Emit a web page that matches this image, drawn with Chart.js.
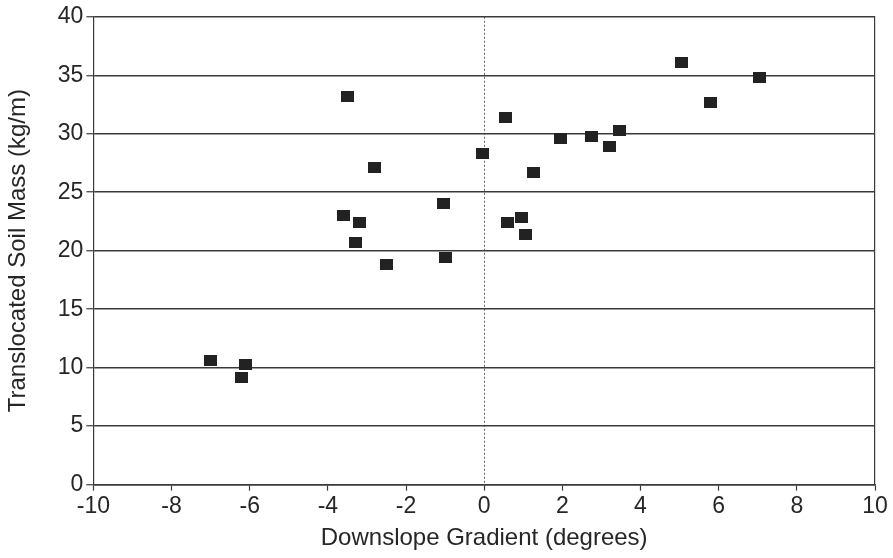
<!DOCTYPE html>
<html>
<head>
<meta charset="utf-8">
<script src="https://cdn.jsdelivr.net/npm/chart.js@4/dist/chart.umd.min.js"></script>
<style>
  html, body { margin: 0; padding: 0; background: #fff; }
  #wrap { width: 893px; height: 558px; }
</style>
</head>
<body>
<div id="wrap"><canvas id="c"></canvas></div>
<script>
// gradient (degrees) vs translocated soil mass (kg/m)
const gradient = [-7.0, -6.2, -6.1, -3.5, -2.8, -3.6, -3.2, -3.3, -2.5, -1.05, -1.0,
                  -0.05, 0.55, 1.25, 0.6, 0.95, 1.05, 1.95, 2.75, 3.2, 3.45, 5.05, 5.8, 7.05];
const soilMass = [10.6, 9.2, 10.3, 33.2, 27.1, 23.0, 22.4, 20.7, 18.8, 24.0, 19.4,
                  28.3, 31.4, 26.7, 22.4, 22.8, 21.4, 29.6, 29.8, 28.9, 30.3, 36.1, 32.7, 34.8];
const xTicks = [-10, -8, -6, -4, -2, 0, 2, 4, 6, 8, 10];
const yTicks = [0, 5, 10, 15, 20, 25, 30, 35, 40];

const ink = '#262626';
const lineCol = '#3a3a3a';

// filled square marker, a bit wider than tall like the scan
const marker = document.createElement('canvas');
marker.width = 13; marker.height = 11;
const mctx = marker.getContext('2d');
mctx.fillStyle = '#222';
mctx.fillRect(0, 0, 13, 11);

const pts = gradient.map((g, i) => ({x: g, y: soilMass[i]}));

new Chart(document.getElementById('c'), {
  type: 'scatter',
  data: {
    datasets: [{
      data: pts,
      pointStyle: marker,
      pointRadius: 7,
      pointHoverRadius: 7
    }]
  },
  options: {
    responsive: true,
    maintainAspectRatio: false,
    animation: false,
    layout: { padding: { top: 14, right: 18, left: 4, bottom: 3 } },
    plugins: { legend: { display: false }, tooltip: { enabled: false } },
    scales: {
      x: {
        type: 'linear',
        min: -10, max: 10,
        afterBuildTicks: s => { s.ticks = xTicks.map(v => ({value: v})); },
        grid: {
          color: c => (c.tick && c.tick.value === 0) ? '#666' : 'rgba(0,0,0,0)',
          lineWidth: 1,
          tickColor: lineCol,
          tickLength: 6,
          tickWidth: 1.2
        },
        border: { display: true, color: lineCol, width: 1.5, dash: [2, 2] },
        ticks: {
          color: ink,
          padding: 2,
          font: { family: 'Liberation Sans, Arial, sans-serif', size: 23 }
        },
        title: {
          display: true,
          text: 'Downslope Gradient (degrees)',
          color: ink,
          padding: { top: 2, bottom: 2 },
          font: { family: 'Liberation Sans, Arial, sans-serif', size: 24 }
        }
      },
      y: {
        type: 'linear',
        min: 0, max: 40,
        afterBuildTicks: s => { s.ticks = yTicks.map(v => ({value: v})); },
        grid: {
          color: lineCol,
          lineWidth: 1.5,
          tickColor: lineCol,
          tickLength: 7,
          tickWidth: 1.2
        },
        border: { display: true, color: lineCol, width: 1.2 },
        ticks: {
          color: ink,
          padding: 3,
          font: { family: 'Liberation Sans, Arial, sans-serif', size: 23 }
        },
        title: {
          display: true,
          text: 'Translocated Soil Mass (kg/m)',
          color: ink,
          padding: { top: 0, bottom: 22 },
          font: { family: 'Liberation Sans, Arial, sans-serif', size: 24 }
        }
      },
      yr: {
        type: 'linear',
        position: 'right',
        min: 0, max: 40,
        ticks: { display: false },
        grid: { drawOnChartArea: false, drawTicks: false },
        border: { display: true, color: lineCol, width: 1.2 }
      }
    }
  }
});
</script>
</body>
</html>
